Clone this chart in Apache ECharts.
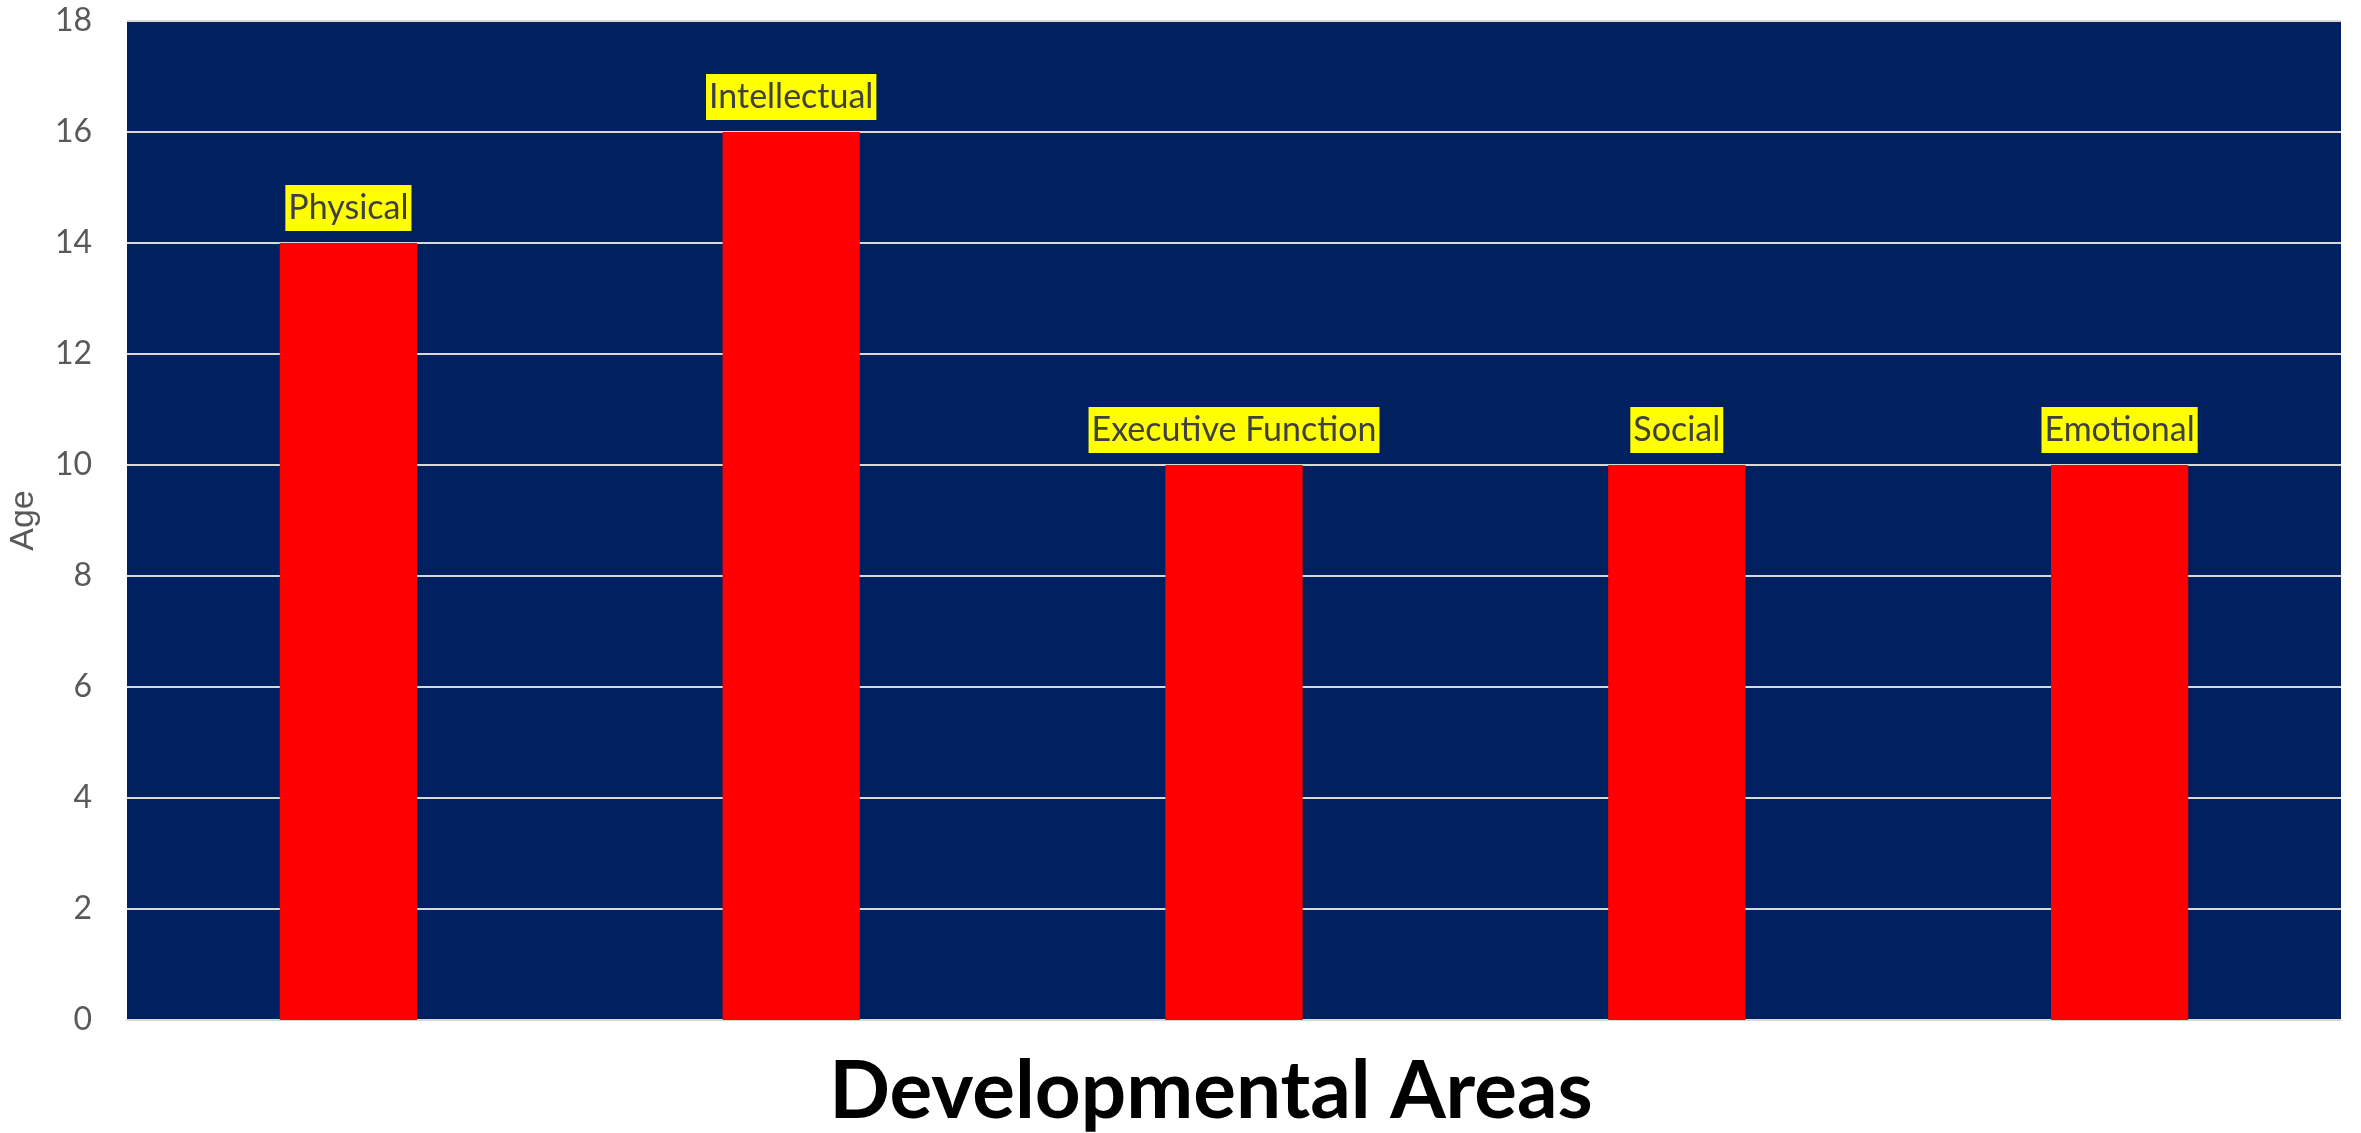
<!DOCTYPE html>
<html>
<head>
<meta charset="utf-8">
<script src="https://cdn.jsdelivr.net/npm/echarts@6/dist/echarts.min.js"></script>
<style>
html,body{margin:0;padding:0;background:#fff;}
#chart{width:2361px;height:1133px;}
</style>
</head>
<body>
<div id="chart"></div>
<script>
const categories = ['Physical', 'Intellectual', 'Executive Function', 'Social', 'Emotional'];
const ages = [14, 16, 10, 10, 10];
const yTicks = { min: 0, max: 18, interval: 2 };
const yAxisName = 'Age';
const xAxisTitle = 'Developmental Areas';

const chart = echarts.init(document.getElementById('chart'));
chart.setOption({
  animation: false,
  backgroundColor: '#ffffff',
  grid: {
    left: 127, right: 20, top: 21, bottom: 113,
    outerBoundsMode: 'none',
    containLabel: false,
    show: true, backgroundColor: '#002060', borderWidth: 0
  },
  graphic: [{
    type: 'text',
    x: 1211, y: 1092,
    style: {
      text: xAxisTitle,
      fontFamily: 'Lato', fontWeight: 'bold', fontSize: 80,
      fill: '#000000',
      align: 'center', verticalAlign: 'middle'
    }
  }],
  xAxis: {
    type: 'category',
    data: categories,
    axisLabel: { show: false },
    axisTick: { show: false },
    axisLine: { show: true, lineStyle: { color: '#D9D9D9', width: 2 } }
  },
  yAxis: {
    type: 'value',
    min: yTicks.min, max: yTicks.max, interval: yTicks.interval,
    name: yAxisName,
    nameLocation: 'middle',
    nameGap: 86,
    nameTextStyle: { fontFamily: 'Liberation Sans', fontSize: 34, color: '#595959' },
    axisLabel: { fontFamily: 'Lato', fontSize: 32, color: '#595959', margin: 35 },
    axisLine: { show: false },
    axisTick: { show: false },
    splitLine: { show: true, lineStyle: { color: '#D9D9D9', width: 2 } }
  },
  series: [{
    type: 'bar',
    data: ages,
    barWidth: '31%',
    itemStyle: { color: '#FF0000' },
    label: {
      show: true,
      position: 'top',
      distance: 12,
      formatter: '{b}',
      fontFamily: 'Lato',
      fontSize: 34,
      lineHeight: 44,
      color: '#404040',
      backgroundColor: '#FFFF00',
      padding: [1, 3, 1, 3]
    }
  }]
});
</script>
</body>
</html>
